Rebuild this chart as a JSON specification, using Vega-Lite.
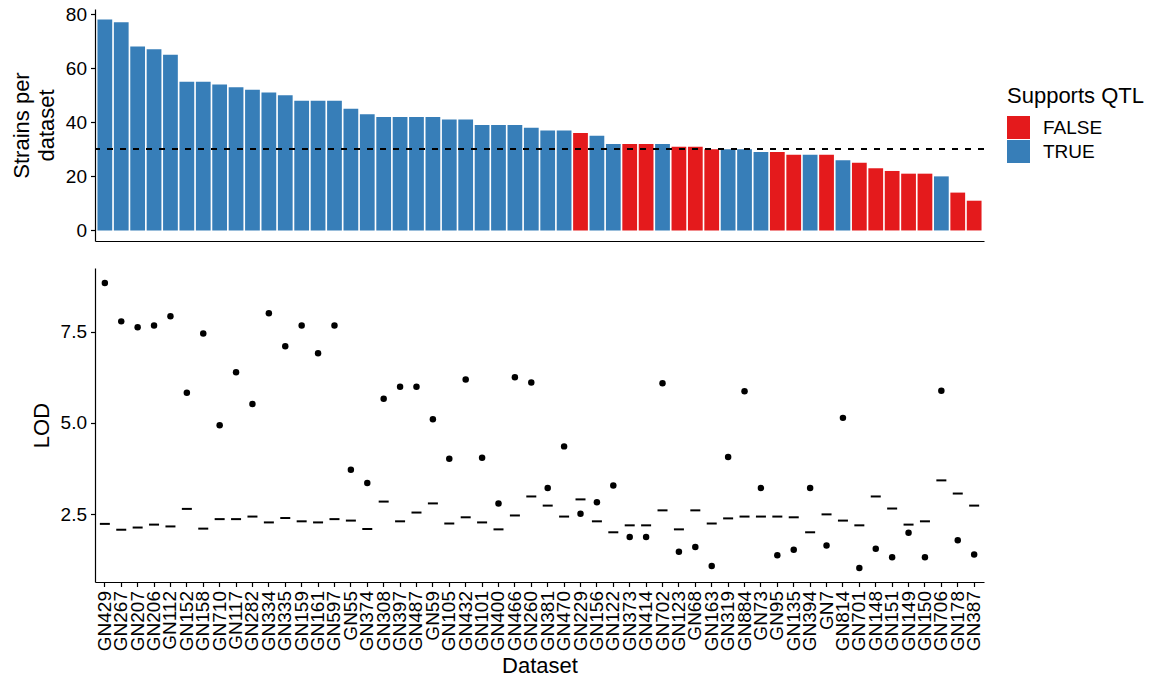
{
  "$schema": "https://vega.github.io/schema/vega-lite/v6.json",
  "padding": {"left": 10, "top": 5, "right": 0, "bottom": 0},
  "datasets": {
    "d": [
      {"ds": "GN429", "strains": 78, "supports": "TRUE", "lod": 8.83, "thr": 2.24},
      {"ds": "GN267", "strains": 77, "supports": "TRUE", "lod": 7.78, "thr": 2.08},
      {"ds": "GN207", "strains": 68, "supports": "TRUE", "lod": 7.62, "thr": 2.14},
      {"ds": "GN206", "strains": 67, "supports": "TRUE", "lod": 7.67, "thr": 2.22},
      {"ds": "GN112", "strains": 65, "supports": "TRUE", "lod": 7.92, "thr": 2.17},
      {"ds": "GN152", "strains": 55, "supports": "TRUE", "lod": 5.83, "thr": 2.65},
      {"ds": "GN158", "strains": 55, "supports": "TRUE", "lod": 7.45, "thr": 2.11},
      {"ds": "GN710", "strains": 54, "supports": "TRUE", "lod": 4.94, "thr": 2.37},
      {"ds": "GN117", "strains": 53, "supports": "TRUE", "lod": 6.39, "thr": 2.37},
      {"ds": "GN282", "strains": 52, "supports": "TRUE", "lod": 5.52, "thr": 2.44},
      {"ds": "GN334", "strains": 51, "supports": "TRUE", "lod": 8.0, "thr": 2.28},
      {"ds": "GN335", "strains": 50, "supports": "TRUE", "lod": 7.1, "thr": 2.4},
      {"ds": "GN159", "strains": 48, "supports": "TRUE", "lod": 7.67, "thr": 2.31},
      {"ds": "GN161", "strains": 48, "supports": "TRUE", "lod": 6.91, "thr": 2.28},
      {"ds": "GN597", "strains": 48, "supports": "TRUE", "lod": 7.67, "thr": 2.37},
      {"ds": "GN55", "strains": 45, "supports": "TRUE", "lod": 3.72, "thr": 2.33},
      {"ds": "GN374", "strains": 43, "supports": "TRUE", "lod": 3.36, "thr": 2.1},
      {"ds": "GN308", "strains": 42, "supports": "TRUE", "lod": 5.66, "thr": 2.85},
      {"ds": "GN397", "strains": 42, "supports": "TRUE", "lod": 5.99, "thr": 2.31},
      {"ds": "GN487", "strains": 42, "supports": "TRUE", "lod": 5.99, "thr": 2.55},
      {"ds": "GN59", "strains": 42, "supports": "TRUE", "lod": 5.1, "thr": 2.8},
      {"ds": "GN105", "strains": 41, "supports": "TRUE", "lod": 4.02, "thr": 2.25},
      {"ds": "GN432", "strains": 41, "supports": "TRUE", "lod": 6.19, "thr": 2.42},
      {"ds": "GN101", "strains": 39, "supports": "TRUE", "lod": 4.05, "thr": 2.28},
      {"ds": "GN400", "strains": 39, "supports": "TRUE", "lod": 2.8, "thr": 2.09},
      {"ds": "GN466", "strains": 39, "supports": "TRUE", "lod": 6.25, "thr": 2.47},
      {"ds": "GN260", "strains": 38, "supports": "TRUE", "lod": 6.11, "thr": 2.99},
      {"ds": "GN381", "strains": 37, "supports": "TRUE", "lod": 3.22, "thr": 2.74},
      {"ds": "GN470", "strains": 37, "supports": "TRUE", "lod": 4.36, "thr": 2.44},
      {"ds": "GN229", "strains": 36, "supports": "FALSE", "lod": 2.52, "thr": 2.91},
      {"ds": "GN156", "strains": 35, "supports": "TRUE", "lod": 2.83, "thr": 2.31},
      {"ds": "GN122", "strains": 32, "supports": "TRUE", "lod": 3.29, "thr": 2.01},
      {"ds": "GN373", "strains": 32, "supports": "FALSE", "lod": 1.88, "thr": 2.2},
      {"ds": "GN414", "strains": 32, "supports": "FALSE", "lod": 1.88, "thr": 2.2},
      {"ds": "GN702", "strains": 32, "supports": "TRUE", "lod": 6.09, "thr": 2.61},
      {"ds": "GN123", "strains": 31, "supports": "FALSE", "lod": 1.48, "thr": 2.09},
      {"ds": "GN68", "strains": 31, "supports": "FALSE", "lod": 1.61, "thr": 2.61},
      {"ds": "GN163", "strains": 30, "supports": "FALSE", "lod": 1.09, "thr": 2.25},
      {"ds": "GN319", "strains": 30, "supports": "TRUE", "lod": 4.07, "thr": 2.39},
      {"ds": "GN884", "strains": 30, "supports": "TRUE", "lod": 5.87, "thr": 2.44},
      {"ds": "GN73", "strains": 29, "supports": "TRUE", "lod": 3.22, "thr": 2.44},
      {"ds": "GN95", "strains": 29, "supports": "FALSE", "lod": 1.38, "thr": 2.44},
      {"ds": "GN135", "strains": 28, "supports": "FALSE", "lod": 1.53, "thr": 2.42},
      {"ds": "GN394", "strains": 28, "supports": "TRUE", "lod": 3.22, "thr": 2.01},
      {"ds": "GN7", "strains": 28, "supports": "FALSE", "lod": 1.65, "thr": 2.5},
      {"ds": "GN814", "strains": 26, "supports": "TRUE", "lod": 5.14, "thr": 2.33},
      {"ds": "GN701", "strains": 25, "supports": "FALSE", "lod": 1.03, "thr": 2.2},
      {"ds": "GN148", "strains": 23, "supports": "FALSE", "lod": 1.56, "thr": 2.99},
      {"ds": "GN151", "strains": 22, "supports": "FALSE", "lod": 1.33, "thr": 2.66},
      {"ds": "GN149", "strains": 21, "supports": "FALSE", "lod": 2.0, "thr": 2.22},
      {"ds": "GN150", "strains": 21, "supports": "FALSE", "lod": 1.33, "thr": 2.31},
      {"ds": "GN706", "strains": 20, "supports": "TRUE", "lod": 5.88, "thr": 3.43},
      {"ds": "GN178", "strains": 14, "supports": "FALSE", "lod": 1.79, "thr": 3.07},
      {"ds": "GN387", "strains": 11, "supports": "FALSE", "lod": 1.4, "thr": 2.74}
    ]
  },
  "spacing": 27,
  "vconcat": [
    {
      "width": 889,
      "height": 232,
      "data": {"name": "d"},
      "layer": [
        {
          "mark": {"type": "bar"},
          "encoding": {
            "x": {"field": "ds", "type": "nominal", "sort": null,
                  "scale": {"paddingInner": 0.1, "paddingOuter": 0.15},
                  "axis": {"labels": false, "ticks": false, "title": null, "domain": true}},
            "y": {"field": "strains", "type": "quantitative",
                  "scale": {"domain": [-3.9, 81.9], "nice": false, "zero": false},
                  "axis": {"values": [0, 20, 40, 60, 80], "title": ["Strains per", "dataset"], "titleLineHeight": 25, "titlePadding": 7, "labelPadding": 4}},
            "color": {"field": "supports", "type": "nominal",
                      "scale": {"domain": ["FALSE", "TRUE"], "range": ["#E41A1C", "#377EB8"]},
                      "legend": {"title": "Supports QTL", "orient": "none", "legendX": 912, "legendY": 77}}
          }
        },
        {
          "mark": {"type": "rule", "strokeDash": [6, 7], "strokeWidth": 1.2, "color": "black"},
          "encoding": {"y": {"datum": 30}}
        }
      ]
    },
    {
      "width": 889,
      "height": 314,
      "data": {"name": "d"},
      "encoding": {
        "x": {"field": "ds", "type": "nominal", "sort": null,
              "scale": {"paddingInner": 0.1, "paddingOuter": 0.15},
              "axis": {"labelAngle": -90, "title": "Dataset", "titlePadding": 5, "labelPadding": 4, "labelOverlap": false}}
      },
      "layer": [
        {
          "mark": {"type": "tick", "color": "black", "opacity": 1, "size": 10, "thickness": 2},
          "encoding": {
            "y": {"field": "thr", "type": "quantitative",
                  "scale": {"domain": [0.65, 9.24], "nice": false, "zero": false},
                  "axis": {"values": [2.5, 5, 7.5], "format": ".1f", "title": "LOD", "titlePadding": 7, "labelPadding": 4}}
          }
        },
        {
          "mark": {"type": "point", "filled": true, "color": "black", "opacity": 1, "size": 42},
          "encoding": {
            "y": {"field": "lod", "type": "quantitative"}
          }
        }
      ]
    }
  ],
  "config": {
    "font": "Liberation Sans",
    "view": {"stroke": null},
    "axis": {
      "domainColor": "black", "domainWidth": 1.2,
      "tickColor": "black", "tickWidth": 1.2, "tickSize": 4.5,
      "labelColor": "black", "labelFontSize": 19, "labelFont": "Liberation Sans",
      "titleFontSize": 22, "titleFontWeight": "normal", "titleColor": "black", "titleFont": "Liberation Sans",
      "grid": false
    },
    "legend": {
      "titleFontSize": 22, "titleFontWeight": "normal", "titleColor": "black", "titleFont": "Liberation Sans",
      "labelFontSize": 19, "labelColor": "black", "labelFont": "Liberation Sans",
      "symbolType": "square", "symbolSize": 529, "symbolStrokeWidth": 0, "symbolOpacity": 1,
      "labelOffset": 13, "rowPadding": 1, "titlePadding": 8, "padding": 0
    }
  }
}
